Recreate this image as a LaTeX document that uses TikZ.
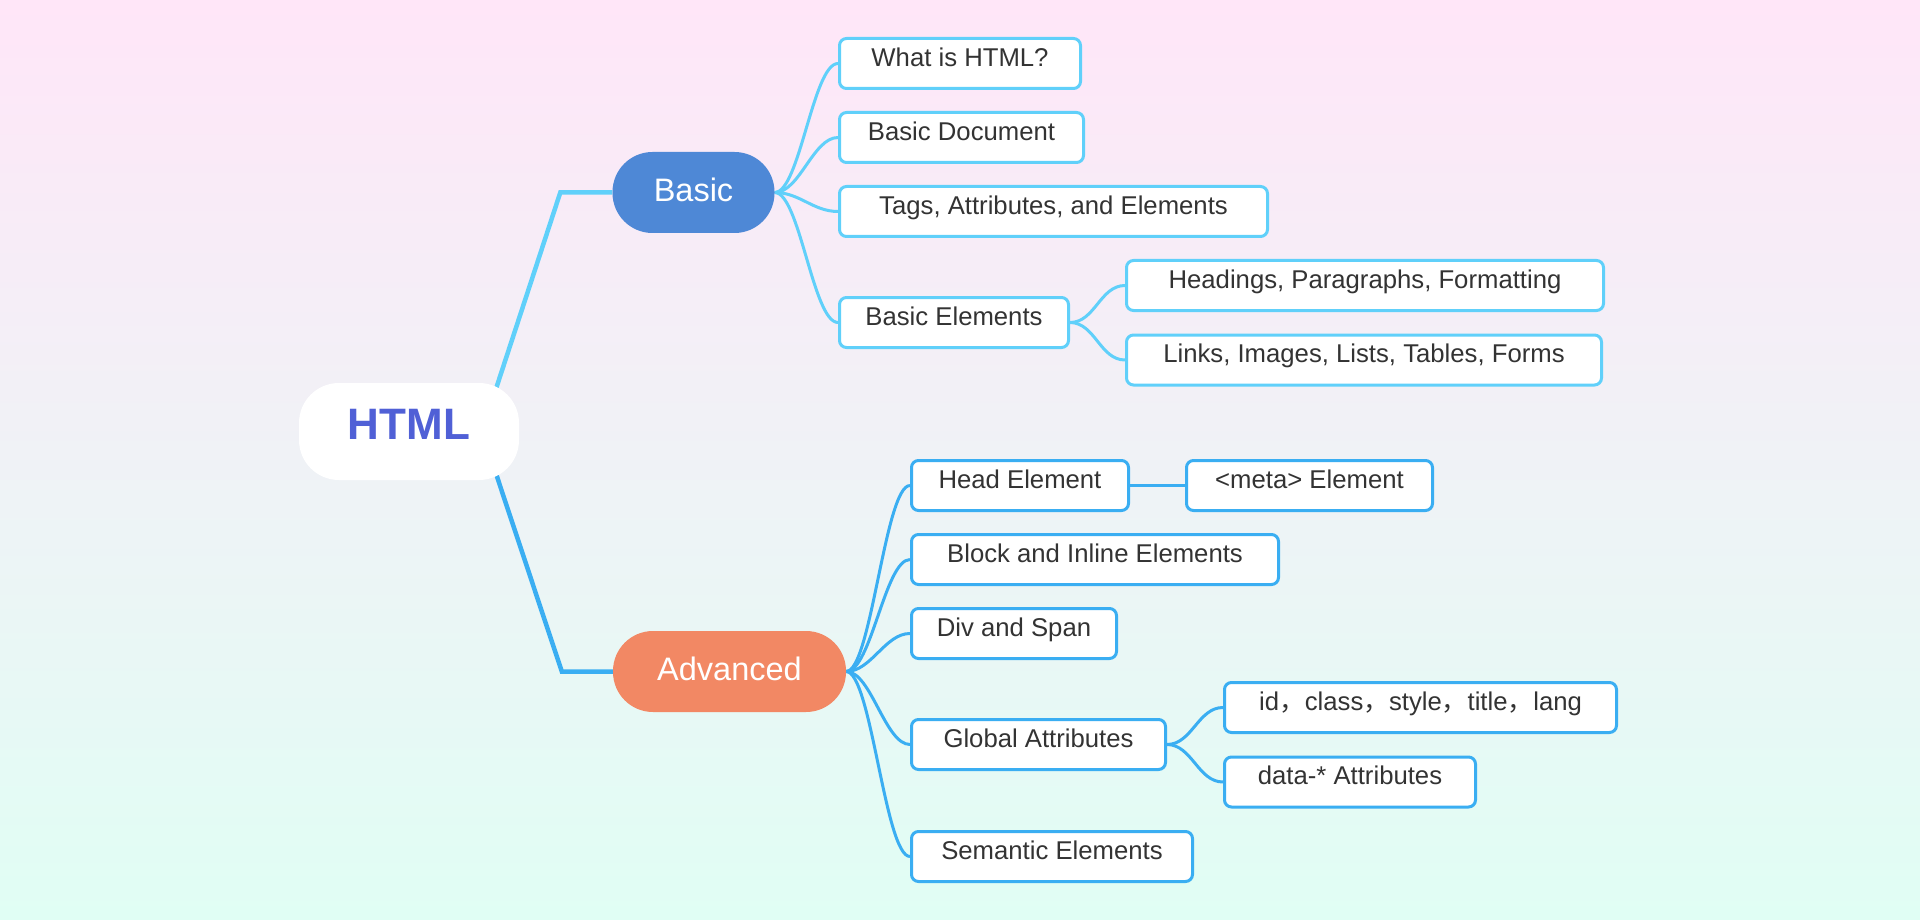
\documentclass[tikz,border=0pt]{standalone}
\usepackage{fontspec}
\setmainfont{Liberation Sans}
\newfontfamily\cjk{Noto Sans CJK SC}
\usepackage[dvipsnames]{xcolor}
\usetikzlibrary{positioning,backgrounds}
\definecolor{skyline}{RGB}{96,208,250}
\definecolor{deepline}{RGB}{58,174,242}
\definecolor{basicblue}{RGB}{78,136,214}
\definecolor{advorange}{RGB}{242,136,100}
\definecolor{rootblue}{RGB}{80,96,214}
\definecolor{inktext}{RGB}{51,51,51}
\definecolor{toppink}{RGB}{255,230,248}
\definecolor{bottommint}{RGB}{224,254,244}

\begin{document}
\begin{tikzpicture}[x=1pt,y=-1pt,node distance=21pt,
    leaf node/.style={draw,line width=3pt,fill=white,rounded corners=7pt,inner sep=0pt,minimum height=50pt,text height=27.7pt,text depth=22.3pt,text=inktext,font=\fontsize{25.7}{30}\selectfont},
    topic node/.style={text=white,inner sep=0pt,minimum height=81pt,rounded corners=40pt,text height=49.5pt,text depth=31.5pt,font=\fontsize{32.5}{38}\selectfont},
    trunk/.style={line width=4.5pt},
    twig/.style={line width=3pt},
    sway/.style={out=0,in=180,distance=25pt}]

            \useasboundingbox (0,0) rectangle (1920,920);

            \node[fill=white,rounded corners=40pt,inner sep=0pt,minimum width=220pt,minimum height=97pt,text height=56.8pt,text depth=40.2pt,text=rootblue,font=\fontsize{44}{50}\selectfont\bfseries] (html) at (409,431.5) {HTML};
            \node[topic node,fill=basicblue,minimum width=162pt] (basic) at (693.5,192.5) {Basic};
            \node[topic node,fill=advorange,minimum width=233pt] (adv) at (729.5,671.5) {Advanced};

            % basic branch
            \node[leaf node,draw=skyline,minimum width=241pt,anchor=north west] (what) at (838,37) {What is HTML?};
            \node[leaf node,draw=skyline,minimum width=244pt] (doc) [below right=21pt and 0pt of what.south west] {Basic Document};
            \node[leaf node,draw=skyline,minimum width=428pt] (tags) [below right=21pt and 0pt of doc.south west] {Tags, Attributes, and Elements};
            \node[leaf node,draw=skyline,minimum width=229pt] (elem) [below right=58pt and 0pt of tags.south west] {Basic Elements};
            \node[leaf node,draw=skyline,minimum width=477pt] (heads) [right=55pt of elem,yshift=37pt] {Headings, Paragraphs, Formatting};
            \node[leaf node,draw=skyline,minimum width=475pt] (links) [right=55pt of elem,yshift=-37.5pt] {Links, Images, Lists, Tables, Forms};

            % advanced branch
            \node[leaf node,draw=deepline,minimum width=217pt,anchor=north west] (headel) at (910,459) {Head Element};
            \node[leaf node,draw=deepline,minimum width=246pt] (meta) [right=55pt of headel] {<meta> Element};
            \node[leaf node,draw=deepline,minimum width=367pt] (block) [below right=21pt and 0pt of headel.south west] {Block and Inline Elements};
            \node[leaf node,draw=deepline,minimum width=205pt] (div) [below right=21pt and 0pt of block.south west] {Div and Span};
            \node[leaf node,draw=deepline,minimum width=254pt] (glob) [below right=58pt and 0pt of div.south west] {Global Attributes};
            \node[leaf node,draw=deepline,minimum width=392pt] (ids) [right=56pt of glob,yshift=37pt] {id{\cjk ，}class{\cjk ，}style{\cjk ，}title{\cjk ，}lang};
            \node[leaf node,draw=deepline,minimum width=251pt] (data) [right=56pt of glob,yshift=-37.5pt] {data-* Attributes};
            \node[leaf node,draw=deepline,minimum width=281pt] (sem) [below right=59pt and 0pt of glob.south west] {Semantic Elements};

            \begin{scope}[on background layer]
            \shade[top color=toppink,bottom color=bottommint] (0,0) rectangle (1920,920);

            \coordinate (hub) at (482,431.5);
            \draw[trunk,skyline] (hub) -- ([xshift=-52pt]basic.west) -- (basic.west);
            \draw[trunk,deepline] (hub) -- ([xshift=-51pt]adv.west) -- (adv.west);

            \draw[twig,skyline] (basic.east) to[sway] (what.west);
            \draw[twig,skyline] (basic.east) to[sway] (doc.west);
            \draw[twig,skyline] (basic.east) to[sway] (tags.west);
            \draw[twig,skyline] (basic.east) to[sway] (elem.west);
            \draw[twig,skyline] (elem.east) to[sway] (heads.west);
            \draw[twig,skyline] (elem.east) to[sway] (links.west);

            \draw[twig,deepline] (adv.east) to[sway] (headel.west);
            \draw[twig,deepline] (adv.east) to[sway] (block.west);
            \draw[twig,deepline] (adv.east) to[sway] (div.west);
            \draw[twig,deepline] (adv.east) to[sway] (glob.west);
            \draw[twig,deepline] (adv.east) to[sway] (sem.west);
            \draw[twig,deepline] (headel) -- (meta);
            \draw[twig,deepline] (glob.east) to[sway] (ids.west);
            \draw[twig,deepline] (glob.east) to[sway] (data.west);
            \end{scope}

            ;
        \end{tikzpicture}
\end{document}
